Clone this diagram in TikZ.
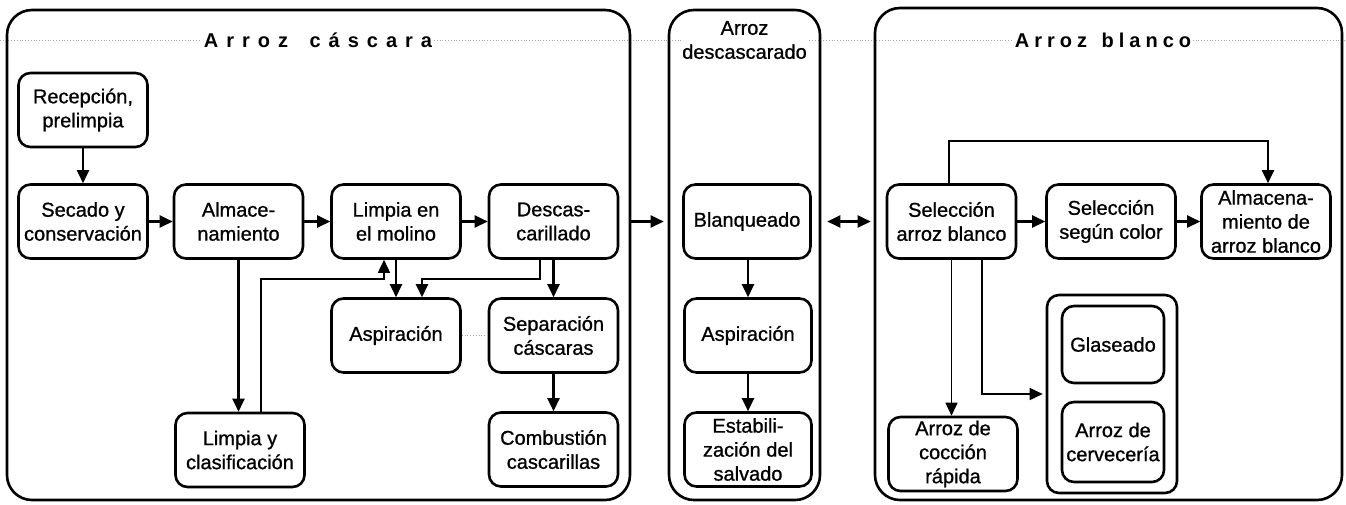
\documentclass[tikz,border=0pt]{standalone}
\usepackage{fontspec}
\setmainfont{Liberation Sans}[FakeBold=0.9]
\newfontfamily\titlefont{Liberation Sans}[LetterSpace=40]
\newfontfamily\titlefontb{Liberation Sans}[LetterSpace=25]
\usetikzlibrary{arrows.meta}
\tikzset{
  procbox/.style={draw, line width=2.6pt, rounded corners=12pt, minimum width=129pt,
    minimum height=74pt, align=center, inner sep=1pt,
    font=\fontsize{20}{24}\selectfont},
  panel/.style={draw, line width=2.6pt, rounded corners=25pt, inner sep=0pt},
  titletext/.style={fill=white, inner sep=2pt},
  arr/.style={line width=2.4pt, -{Triangle[length=13pt,width=12pt]}},
  thinarr/.style={line width=1.6pt, -{Triangle[length=13pt,width=12pt]}},
  dblarr/.style={line width=2.4pt, {Triangle[length=13pt,width=12pt]}-{Triangle[length=13pt,width=12pt]}},
  faint/.style={gray!70, line width=0.8pt, dotted}
}
\begin{document}
\begin{tikzpicture}[x=1pt,y=-1pt]
\useasboundingbox (0,0) rectangle (1346,504);
% title dotted line
\coordinate (dl) at (0,40);
\coordinate (dr) at (1346,40);
\draw[faint] (dl) -- (dr);
% panels
\node[panel, minimum width=623pt, minimum height=490pt] (p1) at (318.5,255) {};
\node[panel, minimum width=151pt, minimum height=490pt] (p2) at (744.5,255) {};
\node[panel, minimum width=467pt, minimum height=492pt] (p3) at (1108.5,254) {};
% titles
\node[titletext, font=\titlefont\bfseries\fontsize{20}{22}\selectfont] (t1) at (318,40) {Arroz\hspace{8pt} cáscara};
\node[fill=white, inner sep=1pt, align=center, font=\fontsize{20}{24}\selectfont] (t2) at (744.5,40) {Arroz\\descascarado};
\node[titletext, font=\titlefontb\bfseries\fontsize{20}{22}\selectfont] (t3) at (1103,40) {Arroz\hspace{4pt} blanco};
% panel 1 boxes
\node[procbox] (rec) at (83,110) {Recepción,\\prelimpia};
\node[procbox] (sec) at (83,221.5) {Secado y\\conservación};
\node[procbox] (alm) at (238.5,221.5) {Almace-\\namiento};
\node[procbox] (lmo) at (396,221.5) {Limpia en\\el molino};
\node[procbox] (des) at (553.5,221.5) {Descas-\\carillado};
\node[procbox] (asp1) at (396,335.5) {Aspiración};
\node[procbox] (sep) at (553.5,335.5) {Separación\\cáscaras};
\node[procbox] (lyc) at (240,450) {Limpia y\\clasificación};
\node[procbox] (com) at (553.5,449.5) {Combustión\\cascarillas};
% panel 2 boxes
\node[procbox, minimum width=127pt] (bla) at (747,221.5) {Blanqueado};
\node[procbox, minimum width=127pt] (asp2) at (748,335.5) {Aspiración};
\node[procbox, minimum width=127pt] (est) at (748,449.5) {Estabili-\\zación del\\salvado};
% panel 3 boxes
\node[procbox] (sab) at (951.5,221.5) {Selección\\arroz blanco};
\node[procbox] (ssc) at (1111,221.5) {Selección\\según color};
\node[procbox] (aab) at (1266,221.5) {Almacena-\\miento de\\arroz blanco};
\node[procbox] (acr) at (953,454) {Arroz de\\cocción\\rápida};
\node[procbox, minimum width=130pt, minimum height=198pt] (grp) at (1112,394) {};
\node[procbox, minimum width=102pt, minimum height=77pt] (gla) at (1113,344.5) {Glaseado};
\node[procbox, minimum width=102pt, minimum height=80pt] (cer) at (1113,442) {Arroz de\\cervecería};
% connectors panel 1
\draw[arr] (rec) -- (sec);
\draw[arr] (sec) -- (alm);
\draw[arr] (alm) -- (lmo);
\draw[arr] (lmo) -- (des);
\draw[arr] (alm.south) -- (alm.south |- lyc.north);
\draw[thinarr] ([xshift=21pt]lyc.north) -- ++(0,-133) -| ([xshift=-12pt]lmo.south);
\draw[arr] (lmo.south) -- (asp1.north);
\draw[arr] ([xshift=-13.5pt]des.south) -- ++(0,19) -| ([xshift=26pt]asp1.north);
\draw[arr] (des.south) -- (sep.north);
\draw[arr] (sep) -- (com);
\draw[faint] (asp1.east) -- (sep.west);
% between panels
\draw[arr, shorten >=4pt] (p1.east |- bla.west) -- (p2.west |- bla.west);
\draw[dblarr, shorten <=6pt, shorten >=3pt] (p2.east |- sab.west) -- (p3.west |- sab.west);
% panel 2
\draw[arr] (bla.south -| asp2.north) -- (asp2.north);
\draw[arr] (asp2) -- (est);
% panel 3
\draw[arr] (sab) -- (ssc);
\draw[arr] (ssc) -- (aab);
\draw[thinarr, line width=2pt] ([xshift=-2.5pt]sab.north) -- ++(0,-42) -| ([xshift=2pt]aab.north);
\draw[thinarr] (sab.south) -- (sab.south |- acr.north);
\draw[thinarr] ([xshift=30.5pt]sab.south) |- ([xshift=-3pt]grp.west);
\end{tikzpicture}
\end{document}
